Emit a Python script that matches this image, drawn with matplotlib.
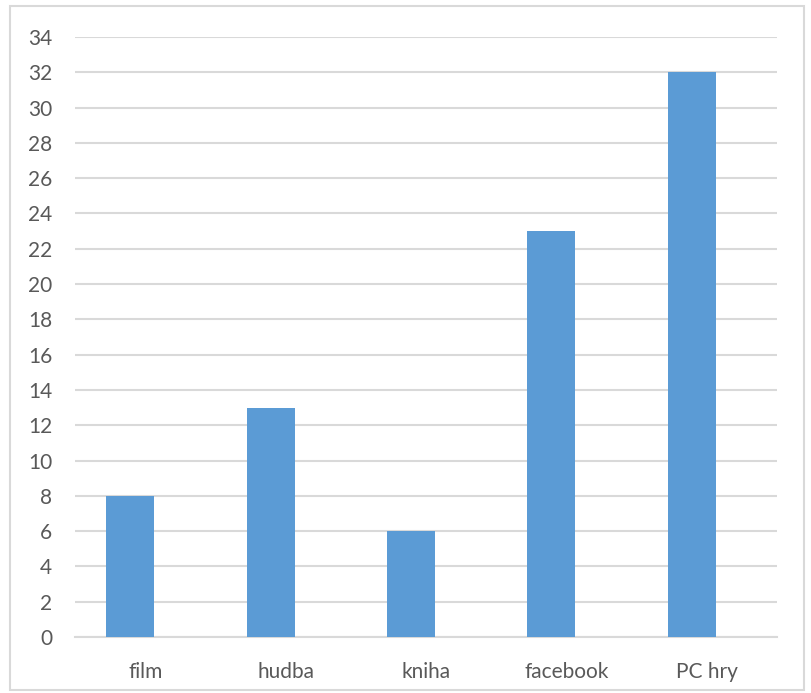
import matplotlib
matplotlib.use("Agg")
import matplotlib.pyplot as plt
from matplotlib.patches import Rectangle

categories = ["film", "hudba", "kniha", "facebook", "PC hry"]
values = [8, 13, 6, 23, 32]
yticks = list(range(0, 35, 2))

plt.rcParams['font.family'] = ['Lato', 'DejaVu Sans']

W, H = 811, 693
fig = plt.figure(figsize=(W / 100, H / 100), dpi=100)
ax = fig.add_axes([75 / W, 1 - 637 / H, 702 / W, 600 / H])

x = list(range(len(categories)))
bar_offset = -0.107
ax.bar([i + bar_offset for i in x], values, width=0.342, color="#5b9bd5", zorder=3)
ax.set_xlim(-0.5, len(categories) - 0.5)
ax.set_ylim(0, 34)
ax.set_yticks(yticks)
ax.set_xticks(x)
ax.set_xticklabels(categories)
ax.yaxis.grid(True, color="#d9d9d9", linewidth=1.5, zorder=0)
ax.set_axisbelow(True)
for s in ["top", "right", "left"]:
    ax.spines[s].set_visible(False)
ax.spines["bottom"].set_color("#d9d9d9")
ax.spines["bottom"].set_linewidth(1.5)
ax.tick_params(axis="both", length=0, labelsize=15, colors="#595959")
ax.tick_params(axis="y", pad=16.5)
ax.tick_params(axis="x", pad=18)

fig.patches.append(Rectangle((10 / W, 3 / H), 794 / W, 684 / H, transform=fig.transFigure,
                             fill=False, edgecolor="#d9d9d9", linewidth=1.5))

fig.savefig("out.png", dpi=100)
